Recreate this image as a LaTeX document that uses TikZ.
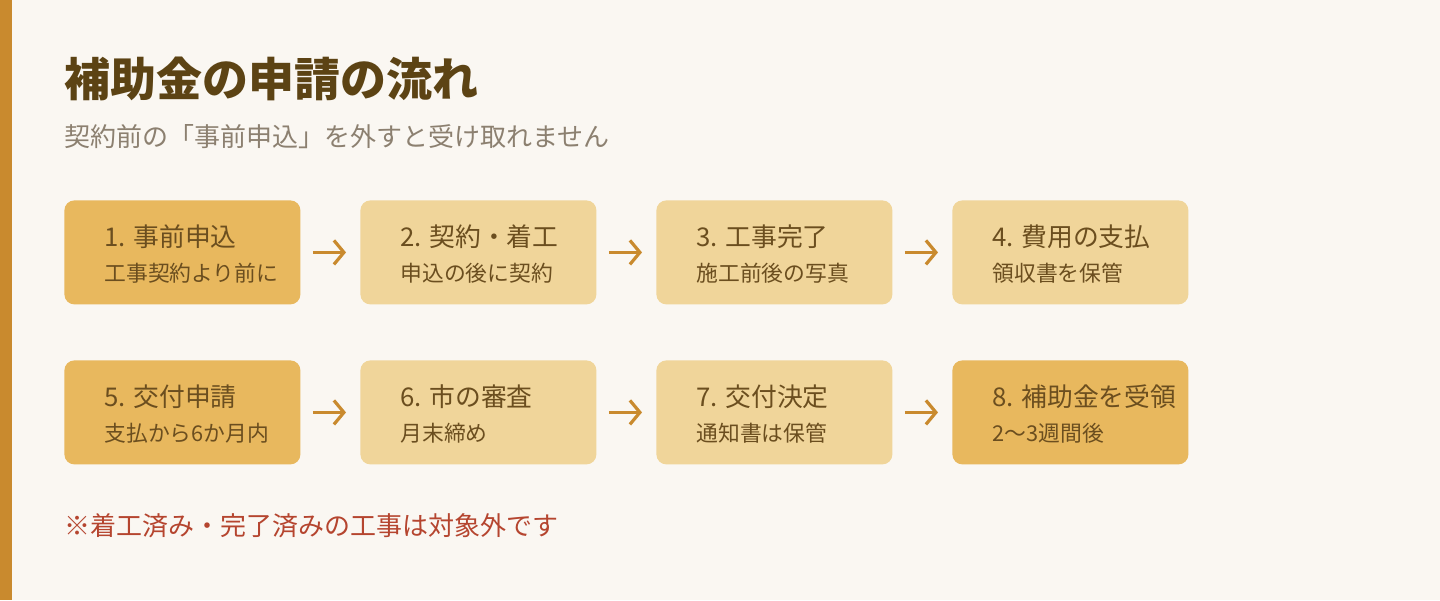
\documentclass[tikz,border=0pt]{standalone}
\usepackage{fontspec}
\newfontfamily\cjk{Noto Sans CJK JP}
\usetikzlibrary{positioning,arrows.meta}
\definecolor{bg}{HTML}{FAF7F2}
\definecolor{bar}{HTML}{C98A2E}
\definecolor{dark}{HTML}{E8B85E}
\definecolor{light}{HTML}{F0D59A}
\definecolor{ink}{HTML}{6B4E1F}
\definecolor{ttl}{HTML}{5C4314}
\definecolor{sub}{HTML}{8C8070}
\definecolor{note}{HTML}{B5452F}
\tikzset{
  stage/.style={rounded corners=5pt,minimum width=118pt,minimum height=52pt,
    inner sep=0pt,anchor=north west},
  head/.style={anchor=base west,font=\cjk\fontsize{12.9}{15}\selectfont,text=ink},
  body/.style={anchor=base west,font=\cjk\fontsize{10.9}{13}\selectfont,text=ink},
  flow/.style={draw=bar,line width=1.6pt,-{Straight Barb[length=5pt,width=12pt]},
    shorten <=6pt,shorten >=7pt}
}
\begin{document}
\begin{tikzpicture}[x=0.5pt,y=-0.5pt]
\fill[bg] (0,0) rectangle (1440,600);
\fill[bar] (0,0) rectangle (12,600);
\node[anchor=base west,inner sep=0pt,font=\cjk\bfseries\fontsize{23}{26}\selectfont,text=ttl] at (64,96) {補助金の申請の流れ};
\node[anchor=base west,inner sep=0pt,font=\cjk\fontsize{13}{15}\selectfont,text=sub] at (64,146) {契約前の「事前申込」を外すと受け取れません};
% stages
\foreach \n/\x/\y/\c/\a/\b in {
  1/64/200/dark/1. 事前申込/工事契約より前に,
  2/360/200/light/2. 契約・着工/申込の後に契約,
  3/656/200/light/3. 工事完了/施工前後の写真,
  4/952/200/light/4. 費用の支払/領収書を保管,
  5/64/360/dark/5. 交付申請/支払から6か月内,
  6/360/360/light/6. 市の審査/月末締め,
  7/656/360/light/7. 交付決定/通知書は保管,
  8/952/360/dark/8. 補助金を受領/2〜3週間後}{
  \node[stage,fill=\c] (s\n) at (\x,\y) {};
  \node[head,inner sep=0pt] at (\x+40,\y+46) {\a};
  \node[body,inner sep=0pt] at (\x+40,\y+81) {\b};
}
\foreach \i/\j in {1/2,2/3,3/4,5/6,6/7,7/8}
  \draw[flow] (s\i.east) -- (s\j.west);
\node[anchor=base west,inner sep=0pt,font=\cjk\fontsize{13}{15}\selectfont,text=note] at (64,535) {※着工済み・完了済みの工事は対象外です};
\end{tikzpicture}
\end{document}
